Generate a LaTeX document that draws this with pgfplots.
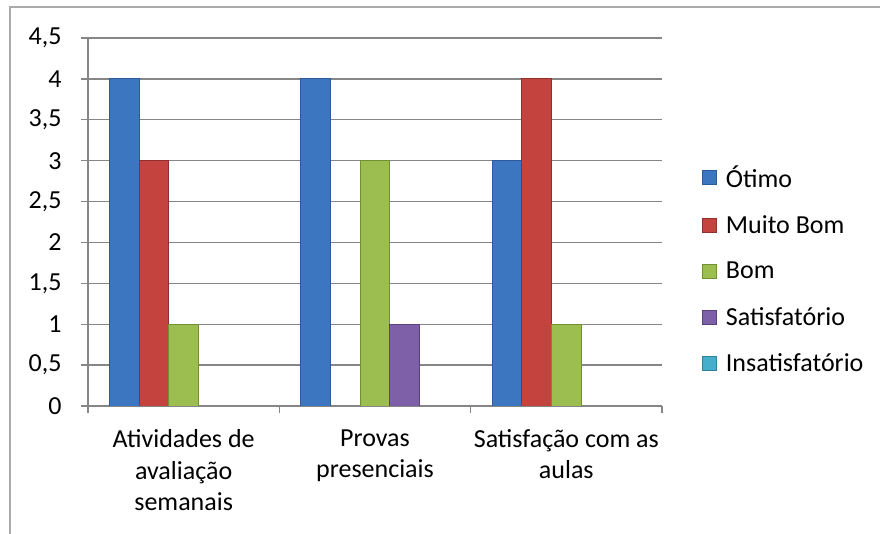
\documentclass[border=0pt]{standalone}
\usepackage{pgfplots}
\pgfplotsset{compat=1.18}
\usepackage{fontspec}
\setmainfont{Carlito}
\definecolor{axgray}{HTML}{868686}
\definecolor{bluemid}{HTML}{3D76C0}\definecolor{blueedge}{HTML}{2B5A98}
\definecolor{redmid}{HTML}{C4433F}\definecolor{rededge}{HTML}{8E302D}
\definecolor{greenmid}{HTML}{9CBE50}\definecolor{greenedge}{HTML}{728F36}
\definecolor{purpmid}{HTML}{7E60A8}\definecolor{purpedge}{HTML}{59437C}
\definecolor{aquamid}{HTML}{44AECB}\definecolor{aquaedge}{HTML}{2D8299}
\newcommand{\cfont}{\fontsize{26bp}{31.5bp}\selectfont}
\begin{document}
\begin{tikzpicture}
\useasboundingbox (0,0) rectangle (880bp,534bp);
\draw[axgray!70, line width=1.2bp] (10bp,-10bp) -- (10bp,527bp) -- (900bp,527bp);
\begin{axis}[
  at={(88bp,128bp)}, anchor=south west,
  scale only axis, width=574bp, height=368bp,
  xmin=-0.5, xmax=2.5, ymin=0, ymax=4.5,
  axis x line*=bottom, axis y line*=left,
  axis line style={axgray, line width=1.3bp, -},
  ymajorgrids, grid style={axgray, line width=1.3bp},
  tick align=outside, major tick length=7bp,
  tick style={axgray, line width=1.3bp},
  ytick={0,0.5,1,1.5,2,2.5,3,3.5,4,4.5},
  /pgf/number format/.cd, use comma, fixed, assume math mode=true,
  /pgfplots/.cd,
  yticklabel style={font=\cfont, anchor=east, xshift=-16bp},
  xtick={0,1,2},
  xticklabels={{Atividades de\\avaliação\\semanais}, {Provas\\presenciais}, {Satisfação com as\\aulas}},
  major x tick style={draw=none},
  xticklabel style={font=\cfont, align=center, anchor=north, yshift=-13bp},
  extra x ticks={-0.5,0.5,1.5,2.5}, extra x tick labels={},
  extra x tick style={major x tick style={draw=axgray}, grid=none},
  legend style={draw=none, fill=none, at={(1.064,0.371)}, anchor=west,
    font=\cfont, row sep=27bp, cells={anchor=west},
    nodes={inner sep=0pt}},
  legend cell align=left,
  legend image code/.code={\filldraw[#1, line width=1bp] (0bp,-7bp) rectangle (14bp,7bp); \path (23bp,0bp);},
  bar width=0.155,
]
\addplot[ybar, bar shift=-0.31, fill=bluemid, draw=blueedge, line width=1bp]
  coordinates {(0,4) (1,4) (2,3)};
\addlegendentry{Ótimo}
\addplot[ybar, bar shift=-0.155, fill=redmid, draw=rededge, line width=1bp]
  coordinates {(0,3) (2,4)};
\addlegendentry{Muito Bom}
\addplot[ybar, bar shift=0, fill=greenmid, draw=greenedge, line width=1bp]
  coordinates {(0,1) (1,3) (2,1)};
\addlegendentry{Bom}
\addplot[ybar, bar shift=0.155, fill=purpmid, draw=purpedge, line width=1bp]
  coordinates {(1,1)};
\addlegendentry{Satisfatório}
\addlegendimage{fill=aquamid, draw=aquaedge}
\addlegendentry{Insatisfatório}
\end{axis}
\end{tikzpicture}
\end{document}
